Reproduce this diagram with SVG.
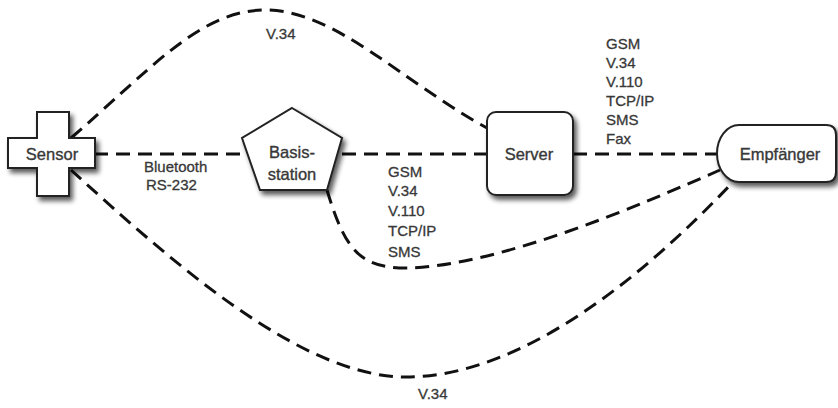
<svg xmlns="http://www.w3.org/2000/svg" width="838" height="408" viewBox="0 0 838 408">
  <style>
    .link { fill: none; stroke: #111; stroke-width: 3; stroke-dasharray: 14 8; }
    .node { fill: #fff; stroke: #222; stroke-width: 2; filter: url(#shadow); }
    .nlabel { font-family: "Liberation Sans", Arial, sans-serif; font-size: 16.5px; fill: #383838; stroke: #383838; stroke-width: 0.35; text-anchor: middle; }
    .elabel { font-family: "Liberation Sans", Arial, sans-serif; font-size: 15px; fill: #383838; stroke: #383838; stroke-width: 0.3; }
  </style>
  <defs>
    <filter id="shadow" x="-20%" y="-20%" width="150%" height="150%">
      <feGaussianBlur in="SourceAlpha" stdDeviation="2.5"/>
      <feOffset dx="3" dy="4" result="blur"/>
      <feComponentTransfer><feFuncA type="linear" slope="0.65"/></feComponentTransfer>
      <feMerge><feMergeNode/><feMergeNode in="SourceGraphic"/></feMerge>
    </filter>
  </defs>
  <rect width="838" height="408" fill="#fff"/>

  <g id="connectors">
    <path class="link" d="M94,154 H242"/>
    <path class="link" d="M342,154 H487"/>
    <path class="link" d="M573,154 H717"/>
    <path class="link" d="M71,138 C150,70 200,10 265,10 C335,10 400,80 487,128"/>
    <path class="link" d="M71,170 C170,260 300,377 406,377 C520,377 640,280 733,182"/>
    <path class="link" d="M327,190 C345,250 360,268 406,268 C500,266 640,205 720,170"/>
  </g>

  <g id="edge-labels">
    <text class="elabel" x="266" y="39">V.34</text>
    <text class="elabel" x="418" y="399">V.34</text>
    <text class="elabel" x="144" y="172">Bluetooth</text>
    <text class="elabel" x="146" y="190">RS-232</text>
    <text class="elabel" x="388" y="177">GSM</text>
    <text class="elabel" x="388" y="196">V.34</text>
    <text class="elabel" x="388" y="216">V.110</text>
    <text class="elabel" x="388" y="236">TCP/IP</text>
    <text class="elabel" x="388" y="257">SMS</text>
    <text class="elabel" x="606" y="49">GSM</text>
    <text class="elabel" x="606" y="68">V.34</text>
    <text class="elabel" x="606" y="87">V.110</text>
    <text class="elabel" x="606" y="106">TCP/IP</text>
    <text class="elabel" x="606" y="125">SMS</text>
    <text class="elabel" x="606" y="144">Fax</text>
  </g>

  <g id="sensor">
    <path class="node" d="M37,112 H69 V138 H95 V168 H69 V196 H37 V168 H8 V138 H37 Z"/>
    <text class="nlabel" x="52" y="160">Sensor</text>
  </g>

  <g id="basisstation">
    <path class="node" d="M292,108 L342,138 L327,190 L260,190 L242,138 Z"/>
    <text class="nlabel" x="292" y="158">Basis-</text>
    <text class="nlabel" x="292" y="180">station</text>
  </g>

  <g id="server">
    <rect class="node" x="487" y="112" width="86" height="83" rx="9"/>
    <text class="nlabel" x="529" y="160">Server</text>
  </g>

  <g id="empfaenger">
    <path class="node" d="M739,125 H826 Q836,125 836,135 V172 Q836,182 826,182 H739 A22,28.5 0 0 1 739,125 Z"/>
    <text class="nlabel" x="780" y="160">Empfänger</text>
  </g>
</svg>
